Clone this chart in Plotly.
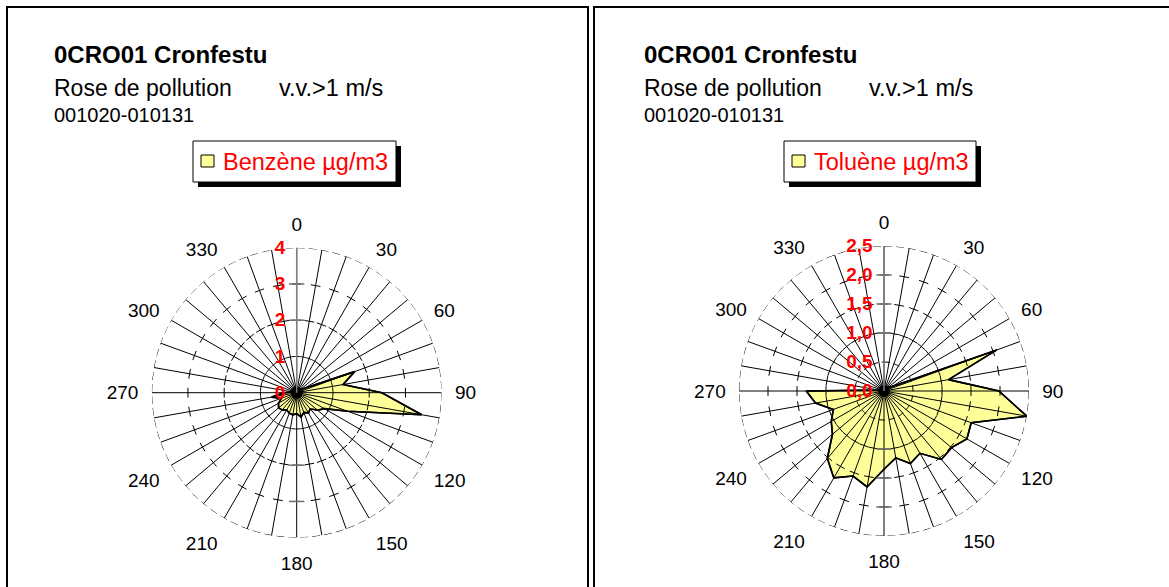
import plotly.graph_objects as go

W, H = 1169, 587

# ---------------- data ----------------
ANGLES = list(range(0, 360, 10))
BENZENE = [0.10, 0.10, 0.10, 0.10, 0.12, 0.15, 0.25, 1.70, 1.30, 2.35,
           3.50, 1.50, 0.88, 0.75, 0.58, 0.65, 0.58, 0.68, 0.58, 0.62,
           0.60, 0.55, 0.62, 0.65, 0.58, 0.45, 0.70, 0.35, 0.12, 0.10,
           0.10, 0.10, 0.10, 0.10, 0.10, 0.10]
TOLUENE = [0.08, 0.08, 0.08, 0.08, 0.08, 0.10, 0.15, 2.07, 1.13, 1.98,
           2.50, 1.60, 1.65, 1.52, 1.54, 1.24, 1.33, 1.17, 1.35, 1.68,
           1.56, 1.73, 1.52, 1.16, 1.05, 0.93, 1.20, 1.34, 0.10, 0.08,
           0.08, 0.08, 0.08, 0.08, 0.08, 0.08]
ANGLE_TICKS = list(range(0, 360, 30))
ANGLE_LABELS = [str(a) for a in ANGLE_TICKS]
BENZ_TICKS = [0, 1, 2, 3, 4]
BENZ_TICKTEXT = ["0", "1", "2", "3", "4"]
TOL_TICKS = [0, 0.5, 1.0, 1.5, 2.0, 2.5]
TOL_TICKTEXT = ["0,0", "0,5", "1,0", "1,5", "2,0", "2,5"]

STATION = "0CRO01 Cronfestu"
SUBTITLE = "Rose de pollution"
WIND = "v.v.>1 m/s"
PERIOD = "001020-010131"
SERIES = ["Benzène µg/m3", "Toluène µg/m3"]

FONT = "Arial, Liberation Sans, sans-serif"
FILL = "#FFFF99"


def px(x):
    return x / W


def py(y):
    return 1 - y / H


fig = go.Figure()


def add_rose(sub, values, rmax, inner_r, inner_dash, mark_rs):
    # filled polygon
    fig.add_trace(go.Scatterpolar(
        r=values + [values[0]], theta=ANGLES + [ANGLES[0]], subplot=sub,
        mode="lines", fill="toself", fillcolor=FILL,
        line=dict(color="black", width=1.6), hoverinfo="skip",
        showlegend=False, cliponaxis=False))
    # spokes drawn above the fill
    rr, tt = [], []
    for a in ANGLES:
        rr += [0, rmax, None]
        tt += [a, a, None]
    fig.add_trace(go.Scatterpolar(
        r=rr, theta=tt, subplot=sub, mode="lines",
        line=dict(color="black", width=1), hoverinfo="skip",
        showlegend=False, cliponaxis=False))
    # outline again on top
    fig.add_trace(go.Scatterpolar(
        r=values + [values[0]], theta=ANGLES + [ANGLES[0]], subplot=sub,
        mode="lines", line=dict(color="black", width=1.6), hoverinfo="skip",
        showlegend=False, cliponaxis=False))
    circ = list(range(0, 361, 2))
    fig.add_trace(go.Scatterpolar(
        r=[rmax] * len(circ), theta=circ, subplot=sub, mode="lines",
        line=dict(color="black", width=1, dash="8px,4px"),
        hoverinfo="skip", showlegend=False, cliponaxis=False))
    fig.add_trace(go.Scatterpolar(
        r=[inner_r] * len(circ), theta=circ, subplot=sub, mode="lines",
        line=dict(color="black", width=1, dash=inner_dash),
        hoverinfo="skip", showlegend=False, cliponaxis=False))
    # short gridline marks on every spoke
    mr, mt = [], []
    for r in mark_rs:
        for a in ANGLES:
            mr.append(r)
            mt.append(a)
    fig.add_trace(go.Scatterpolar(
        r=mr, theta=mt, subplot=sub, mode="markers",
        marker=dict(symbol="line-ew", size=7, angle=mt,
                    line=dict(color="black", width=1)),
        hoverinfo="skip", showlegend=False, cliponaxis=False))
    # longer grey marks on the vertical value axis
    fig.add_trace(go.Scatterpolar(
        r=mark_rs + mark_rs, theta=[0] * len(mark_rs) + [180] * len(mark_rs),
        subplot=sub, mode="markers",
        marker=dict(symbol="line-ew", size=11,
                    line=dict(color="#707070", width=1.5)),
        hoverinfo="skip", showlegend=False, cliponaxis=False))
    # centre dot
    fig.add_trace(go.Scatterpolar(
        r=[0], theta=[0], subplot=sub, mode="markers",
        marker=dict(color="black", size=12), hoverinfo="skip",
        showlegend=False, cliponaxis=False))


add_rose("polar", BENZENE, 4, 1, "solid", [2, 3])
add_rose("polar2", TOLUENE, 2.5, 0.5, "6px,4px", [1.0, 1.5, 2.0])


def polar_layout(cx, cy, R, ticks, ticktext, rmax):
    return dict(
        domain=dict(x=[px(cx - R), px(cx + R)], y=[py(cy + R), py(cy - R)]),
        bgcolor="rgba(0,0,0,0)",
        angularaxis=dict(rotation=90, direction="clockwise",
                         tickmode="array", tickvals=ANGLE_TICKS,
                         ticktext=ANGLE_LABELS, showgrid=False,
                         showline=False, ticks="outside", ticklen=9,
                         tickcolor="rgba(0,0,0,0)",
                         tickfont=dict(family=FONT, size=19, color="black")),
        radialaxis=dict(range=[0, rmax], angle=90, side="counterclockwise",
                        tickmode="array", tickvals=ticks, ticktext=ticktext,
                        showgrid=False, showline=True, linecolor="#808080",
                        linewidth=1.5, ticks="outside", ticklen=4,
                        tickcolor="rgba(0,0,0,0)", tickangle=90,
                        tickfont=dict(family=FONT, size=19, color="red",
                                      weight="bold")),
    )


annotations = []
shapes = []

panels = [
    dict(x0=7, x1=588, tx=53, cx=296.7, cy=392.7, lx0=193, lx1=396),
    dict(x0=594, x1=1185, tx=643, cx=884, cy=391, lx0=784, lx1=976),
]
for i, p in enumerate(panels):
    shapes.append(dict(type="rect", xref="paper", yref="paper",
                       x0=px(p["x0"]), x1=px(p["x1"]), y0=py(620), y1=py(7),
                       line=dict(color="black", width=2)))
    # legend shadow, box, swatch
    shapes.append(dict(type="rect", xref="paper", yref="paper",
                       x0=px(p["lx0"] + 5), x1=px(p["lx1"] + 5),
                       y0=py(187), y1=py(146), fillcolor="black",
                       line=dict(width=0)))
    shapes.append(dict(type="rect", xref="paper", yref="paper",
                       x0=px(p["lx0"]), x1=px(p["lx1"]),
                       y0=py(182), y1=py(141), fillcolor="white",
                       line=dict(color="black", width=1)))
    shapes.append(dict(type="rect", xref="paper", yref="paper",
                       x0=px(p["lx0"] + 8), x1=px(p["lx0"] + 21),
                       y0=py(167), y1=py(155), fillcolor=FILL,
                       line=dict(color="black", width=1)))
    annotations.append(dict(text=SERIES[i], x=px(p["lx0"] + 28), y=py(161.5),
                            xref="paper", yref="paper", xanchor="left",
                            yanchor="middle", showarrow=False,
                            font=dict(family=FONT, size=23.5, color="red")))
    tx = p["tx"]
    annotations.append(dict(text="<b>" + STATION + "</b>", x=px(tx - 1), y=py(55),
                            xref="paper", yref="paper", xanchor="left",
                            yanchor="middle", showarrow=False,
                            font=dict(family=FONT, size=24, color="black")))
    annotations.append(dict(text=SUBTITLE, x=px(tx - 1), y=py(88),
                            xref="paper", yref="paper", xanchor="left",
                            yanchor="middle", showarrow=False,
                            font=dict(family=FONT, size=23, color="black")))
    annotations.append(dict(text=WIND, x=px(tx + 224), y=py(88),
                            xref="paper", yref="paper", xanchor="left",
                            yanchor="middle", showarrow=False,
                            font=dict(family=FONT, size=23.5, color="black")))
    annotations.append(dict(text=PERIOD, x=px(tx - 1), y=py(115),
                            xref="paper", yref="paper", xanchor="left",
                            yanchor="middle", showarrow=False,
                            font=dict(family=FONT, size=20, color="black")))

fig.update_layout(
    width=W, height=H, autosize=False,
    margin=dict(l=0, r=0, t=0, b=0),
    paper_bgcolor="white", plot_bgcolor="white",
    showlegend=False,
    polar=polar_layout(296.7, 392.7, 145, BENZ_TICKS, BENZ_TICKTEXT, 4),
    polar2=polar_layout(884, 391, 145, TOL_TICKS, TOL_TICKTEXT, 2.5),
    shapes=shapes, annotations=annotations,
)

fig.write_html("out.html",
               config={"displayModeBar": False},
               post_script="document.body.style.margin='0px';"
                           "document.body.style.overflow='hidden';")
